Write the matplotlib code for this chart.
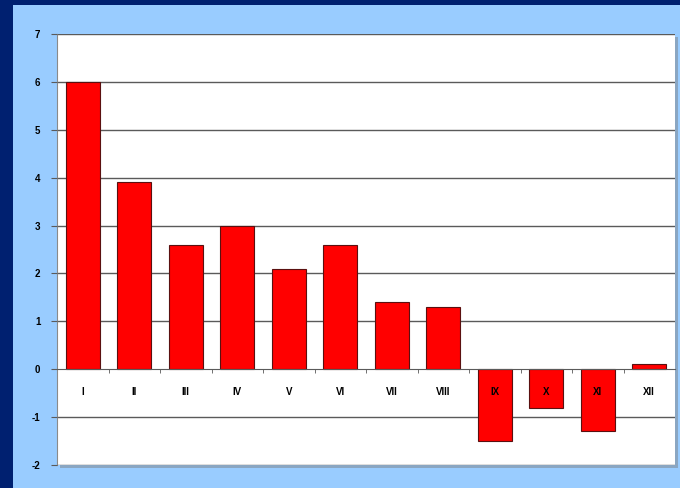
import matplotlib
matplotlib.use("Agg")
import matplotlib.pyplot as plt
from matplotlib.patches import Rectangle
import numpy as np

months = ["I", "II", "III", "IV", "V", "VI", "VII", "VIII", "IX", "X", "XI", "XII"]
values = [6.0, 3.9, 2.6, 3.0, 2.1, 2.6, 1.4, 1.3, -1.5, -0.8, -1.3, 0.1]
y_ticks = [-2, -1, 0, 1, 2, 3, 4, 5, 6, 7]

W, H = 680, 488
fig = plt.figure(figsize=(W / 100, H / 100), dpi=100, facecolor="#99CCFF")

# navy frame along the left and top edges
fig.patches.append(Rectangle((0, 0), 13 / W, 1, transform=fig.transFigure,
                             facecolor="#002070", edgecolor="none", zorder=-3))
fig.patches.append(Rectangle((0, 1 - 5 / H), 1, 5 / H, transform=fig.transFigure,
                             facecolor="#002070", edgecolor="none", zorder=-3))

left, right, top, bottom = 57, 675, 34, 465
ax_rect = [left / W, 1 - bottom / H, (right - left) / W, (bottom - top) / H]

# soft shadow behind the plot area
fig.patches.append(Rectangle((ax_rect[0] + 3 / W, ax_rect[1] - 3 / H), ax_rect[2], ax_rect[3],
                             transform=fig.transFigure, facecolor="#8aa6c2",
                             edgecolor="none", zorder=-2))

ax = fig.add_axes(ax_rect)
ax.set_facecolor("white")

grid_color = "#5a5a5a"

x = np.arange(len(months))
ax.bar(x, values, width=0.66, color="#FF0000", edgecolor="#5a1010", linewidth=0.8, zorder=2)

ax.set_xlim(-0.5, len(months) - 0.5)
ax.set_ylim(-2, 7)
ax.set_yticks(y_ticks)
ax.set_yticklabels([str(v) for v in y_ticks], fontsize=7, fontweight="bold",
                   family="Liberation Sans")
# horizontal gridlines sit beneath the bars
for v in y_ticks:
    if v != 0:
        ax.axhline(v, color=grid_color, linewidth=1.0, zorder=1)
ax.set_axisbelow(False)

ax.spines["bottom"].set_position(("data", 0))
ax.spines["bottom"].set_color(grid_color)
ax.spines["bottom"].set_zorder(2.6)
for s in ["top", "right"]:
    ax.spines[s].set_visible(False)
ax.spines["left"].set_color("#8a8a8a")
ax.tick_params(axis="y", length=4, color=grid_color, pad=8)

ax.set_xticks(x)
ax.set_xticklabels(months, fontsize=7, family="Liberation Sans", fontweight="bold")
ax.set_xticks(np.arange(0.5, len(months) - 0.5, 1.0), minor=True)
ax.tick_params(axis="x", which="major", length=0, pad=13)
ax.tick_params(axis="x", which="minor", length=3, color=grid_color, direction="out")

fig.savefig("out.png", dpi=100, facecolor=fig.get_facecolor())
